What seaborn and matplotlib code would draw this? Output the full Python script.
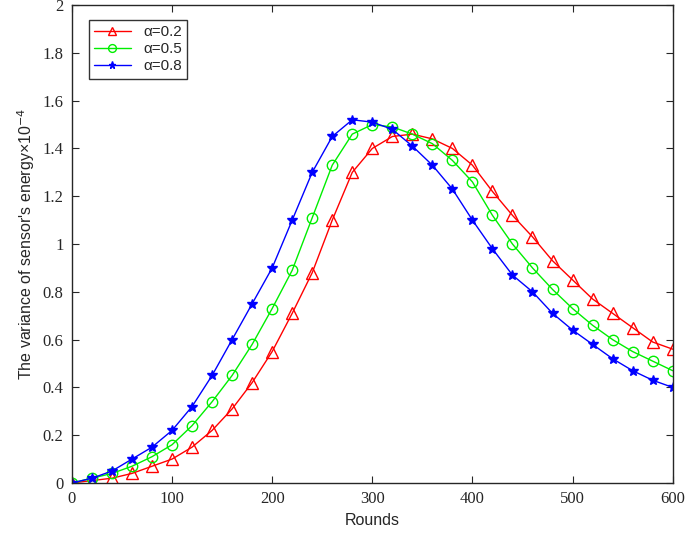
import matplotlib
matplotlib.use('Agg')
import matplotlib.pyplot as plt
import numpy as np
import pandas as pd
import seaborn as sns

rounds = list(range(0, 601, 20))
var_a02 = [0, 0.01, 0.02, 0.04, 0.07, 0.10, 0.15, 0.22, 0.31, 0.42, 0.55, 0.71, 0.88, 1.10, 1.30, 1.40,
           1.45, 1.46, 1.44, 1.40, 1.33, 1.22, 1.12, 1.03, 0.93, 0.85, 0.77, 0.71, 0.65, 0.59, 0.56]
var_a05 = [0, 0.02, 0.04, 0.07, 0.11, 0.16, 0.24, 0.34, 0.45, 0.58, 0.73, 0.89, 1.11, 1.33, 1.46, 1.50,
           1.49, 1.46, 1.42, 1.35, 1.26, 1.12, 1.00, 0.90, 0.81, 0.73, 0.66, 0.60, 0.55, 0.51, 0.47]
var_a08 = [0, 0.02, 0.05, 0.10, 0.15, 0.22, 0.32, 0.45, 0.60, 0.75, 0.90, 1.10, 1.30, 1.45, 1.52, 1.51,
           1.48, 1.41, 1.33, 1.23, 1.10, 0.98, 0.87, 0.80, 0.71, 0.64, 0.58, 0.52, 0.47, 0.43, 0.40]
labels = ['\u03b1=0.2', '\u03b1=0.5', '\u03b1=0.8']

sns.set_style('ticks')
plt.rcParams['font.family'] = ['Liberation Sans', 'DejaVu Sans']

fig = plt.figure(figsize=(6.85, 5.4), dpi=100)
ax = fig.add_axes([0.105, 0.1056, 0.877, 0.885])

# one call per series so each gets its own marker style
styles = [('red', '^', 'none', 8.5), ('#00ee00', 'o', 'none', 7.5), ('blue', '*', 'blue', 7)]
for values, label, (color, marker, face, size) in zip([var_a02, var_a05, var_a08], labels, styles):
    df = pd.DataFrame({'Rounds': rounds, 'var': values})
    sns.lineplot(data=df, x='Rounds', y='var', ax=ax, color=color, marker=marker,
                 markerfacecolor=face, markeredgecolor=color, markersize=size,
                 markeredgewidth=1.0, linewidth=1.0, label=label)

ax.set_xlim(0, 600)
ax.set_ylim(0, 2)
ax.set_xticks(np.arange(0, 601, 100))
ax.set_yticks(np.arange(0, 2.01, 0.2))
ax.set_yticklabels(['0', '0.2', '0.4', '0.6', '0.8', '1', '1.2', '1.4', '1.6', '1.8', '2'])
ax.tick_params(direction='in', top=True, right=True, length=5, width=0.8, pad=6)
for lab in ax.get_xticklabels() + ax.get_yticklabels():
    lab.set_family('Liberation Serif')
    lab.set_fontsize(12)
for sp in ax.spines.values():
    sp.set_linewidth(1.0)

ax.set_xlabel('Rounds', fontsize=11.5)
ax.set_ylabel("The variance of sensor's energy\u00d710$^{-4}$", fontsize=11.5)

leg = ax.legend(loc='upper left', bbox_to_anchor=(0.028, 0.969), fontsize=11, frameon=True,
                fancybox=False, edgecolor='black', handlelength=2.4, borderpad=0.35,
                labelspacing=0.2, markerscale=0.75, borderaxespad=0)
leg.get_frame().set_linewidth(1.0)

fig.savefig('out.png', dpi=100)
